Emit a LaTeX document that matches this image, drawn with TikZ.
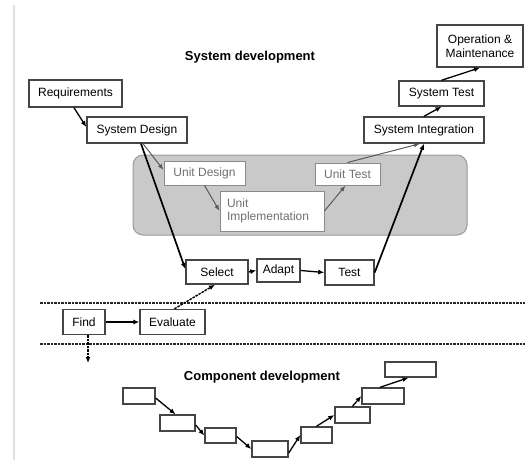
\documentclass[tikz,border=0pt]{standalone}
\usepackage{fontspec}
\setmainfont{Liberation Sans}
\usetikzlibrary{arrows.meta}
\definecolor{boxline}{HTML}{454545}
\definecolor{unitline}{HTML}{8A8A8A}
\definecolor{unittext}{HTML}{707070}
\definecolor{areafill}{HTML}{C9C9C9}
\definecolor{arealine}{HTML}{9A9A9A}
\tikzset{
  sbox/.style={draw=boxline, line width=1.4pt, fill=white, inner sep=0pt, font=\fontsize{12}{13.5}\selectfont, align=center},
  ubox/.style={draw=unitline, line width=1pt, fill=white, inner sep=0pt, text=unittext, font=\fontsize{12}{13.5}\selectfont},
  cbox/.style={draw=boxline, line width=1.4pt, fill=white, inner sep=0pt},
  arr/.style={line width=1.3pt, -{Latex[length=6pt,width=5pt]}},
  thickarr/.style={line width=1.7pt, -{Latex[length=6pt,width=5pt]}},
  uarr/.style={draw=unittext!80!black, line width=1pt, -{Latex[length=6pt,width=4.5pt]}},
  dasharr/.style={line width=1.4pt, dash pattern=on 2.5pt off 1pt, -{Latex[length=6pt,width=5pt]}},
  dashline/.style={line width=1.4pt, draw=black!85, dash pattern=on 2.5pt off 1pt},
  title/.style={font=\bfseries\fontsize{13}{15}\selectfont},
}
\begin{document}
\begin{tikzpicture}[x=1pt,y=-1pt]
\useasboundingbox (0,0) rectangle (525,463);
% left margin line
\draw[line width=2pt, draw=black!12] (14,5) -- (14,460);
% gray area
\draw[fill=areafill, draw=arealine, line width=1pt, rounded corners=10pt] (133,155) rectangle (467,235);
% titles
\node[title] (t1) at (250,57) {System development};
\node[title] (t2) at (262,377) {Component development};
% system boxes
\node[sbox, minimum width=93pt, minimum height=27pt] (req) at (75.5,93.5) {Requirements};
\node[sbox, minimum width=100pt, minimum height=26pt] (sd) at (137,130) {System Design};
\node[sbox, minimum width=120pt, minimum height=26pt] (si) at (424,130) {System Integration};
\node[sbox, minimum width=85pt, minimum height=25pt] (st) at (441.5,93.5) {System Test};
\node[sbox, minimum width=86pt, minimum height=42pt] (om) at (480,46) {Operation \&\\Maintenance};
% unit boxes
\node[ubox, minimum width=81pt, minimum height=24pt] (ud) at (204.5,173) {Unit Design};
\node[ubox, minimum width=104pt, minimum height=40pt, align=left, text width=90pt] (ui) at (272,211) {Unit\\Implementation};
\node[ubox, minimum width=65pt, minimum height=22pt] (ut) at (347.5,174) {Unit Test};
% select adapt test
\node[sbox, minimum width=62pt, minimum height=24pt] (sel) at (217,272) {Select};
\node[sbox, minimum width=43pt, minimum height=23pt] (ad) at (278.5,270.5) {Adapt};
\node[sbox, minimum width=49pt, minimum height=25pt] (tst) at (349.5,272.5) {Test};
% find evaluate
\node[sbox, minimum width=42pt, minimum height=25pt] (find) at (84,322) {Find};
\node[sbox, minimum width=65pt, minimum height=25pt] (eval) at (172.5,322) {Evaluate};
\coordinate (fdown) at (88,363);
% dashed separators
\draw[dashline] (40,303) -- (525,303);
\draw[dashline] (40,344) -- (525,344);
% component boxes
\node[cbox, minimum width=32pt, minimum height=16pt] (c1) at (139,396) {};
\node[cbox, minimum width=35pt, minimum height=16pt] (c2) at (177.5,423) {};
\node[cbox, minimum width=31pt, minimum height=15pt] (c3) at (220.5,435.5) {};
\node[cbox, minimum width=36pt, minimum height=16pt] (c4) at (270,449) {};
\node[cbox, minimum width=31pt, minimum height=16pt] (c5) at (316.5,435) {};
\node[cbox, minimum width=35pt, minimum height=16pt] (c6) at (352.5,415) {};
\node[cbox, minimum width=42pt, minimum height=16pt] (c7) at (383,396) {};
\node[cbox, minimum width=51pt, minimum height=15pt] (c8) at (410.5,369.5) {};
% connectors: system V
\draw[arr] ([xshift=-1.5pt]req.south) -- ([yshift=3pt]sd.west);
\draw[uarr] ([xshift=6pt]sd.south) -- ([yshift=3pt]ud.west);
\draw[thickarr] ([xshift=4pt]sd.south) -- ([yshift=3pt]sel.west);
\draw[uarr] (ud.south) -- (ui.west);
\draw[uarr] (ui.east) -- ([xshift=-2pt]ut.south);
\draw[uarr] (ut.north) -- ([xshift=-4pt]si.south);
\draw[thickarr] (tst.east) -- (si.south);
\draw[arr] (si.north) -- (st.south);
\draw[arr] (st.north) -- (om.south);
\draw[arr] (sel.east) -- (ad.west);
\draw[arr] (ad.east) -- (tst.west);
\draw[arr] (find.east) -- (eval.west);
\draw[dasharr] ([xshift=2pt]eval.north) -- ([xshift=-2pt]sel.south);
\draw[dasharr] ([xshift=4pt]find.south) -- (fdown);
% component connectors
\draw[arr] ([yshift=-2pt]c1.east) -- ([xshift=-2pt]c2.north);
\draw[arr] ([yshift=-2pt]c2.east) -- (c3.west);
\draw[arr] ([yshift=-1pt]c3.east) -- (c4.west);
\draw[arr] ([yshift=-4pt]c4.east) -- (c5.west);
\draw[arr] (c5.north) -- (c6.west);
\draw[arr] (c6.north) -- (c7.west);
\draw[arr] ([xshift=-3pt]c7.north) -- ([xshift=-2pt]c8.south);
\end{tikzpicture}
\end{document}
